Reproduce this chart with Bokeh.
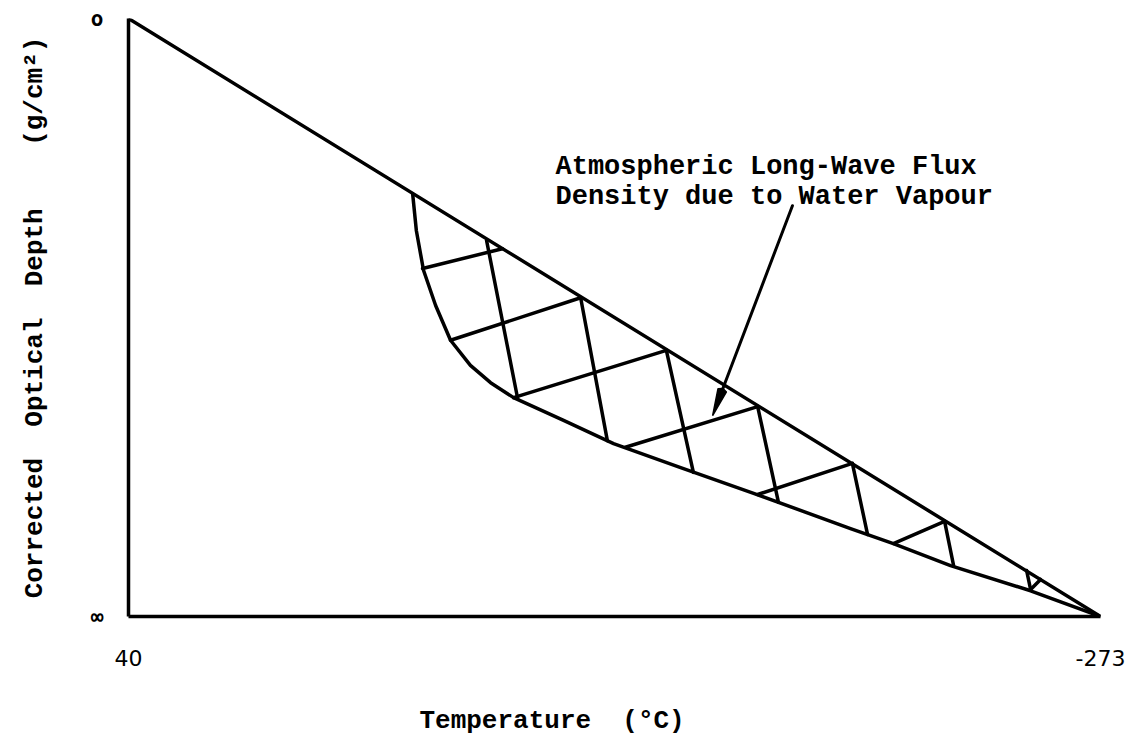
import math
from bokeh.plotting import figure
from bokeh.models import Range1d, FixedTicker
from bokeh.core.properties import value
from bokeh.embed import file_html
from bokeh.resources import INLINE

# ---------------- data ----------------
# x: temperature (deg C), reversed axis from 40 to -273
# y: corrected optical depth, expressed as % of the axis (0 at top, 100 = infinity)
temp_ticks = [40, -273]
temp_tick_labels = ["40", "-273"]
depth_ticks = [0, 100]
depth_tick_labels = ["o", "\u221e"]

upper_t = [40, -273]
upper_d = [0, 100]

lower_t = [-51.5, -52.7, -55.0, -58.9, -63.7, -70.1, -76.6, -84.0, -100.1,
           -116.2, -137.8, -161.3, -192.5, -206.3, -224.7, -250.5, -273]
lower_d = [29.3, 35.5, 42.1, 48.0, 53.8, 58.0, 60.9, 63.4, 67.2,
           71.1, 75.1, 79.4, 85.3, 87.8, 91.5, 95.7, 100]

# hatch strands running down from the upper line to the lower curve
down_t0 = [-75.3, -105.6, -133.2, -162.6, -193.1, -222.8, -249.2]
down_d0 = [37.1, 46.7, 55.5, 64.9, 74.4, 84.1, 92.3]
down_t1 = [-85.3, -114.2, -141.9, -169.3, -198.0, -225.7, -250.5]
down_d1 = [63.5, 70.6, 75.9, 80.9, 86.3, 91.5, 95.5]

# hatch strands rising from the lower curve to the upper line
up_t0 = [-54.7, -63.7, -84.0, -120.0, -162.6, -206.3, -250.5]
up_d0 = [41.8, 53.8, 63.4, 71.7, 79.6, 87.8, 95.5]
up_t1 = [-80.4, -105.6, -133.2, -162.6, -193.1, -222.8, -253.7]
up_d1 = [38.5, 46.7, 55.5, 64.9, 74.4, 84.1, 93.8]

note_lines = ["Atmospheric Long-Wave Flux", "Density due to Water Vapour"]
note_t = [-97.5, -97.5]
note_d = [24.9, 29.9]

arrow_tail = (-173.8, 31.3)
arrow_tip = (-148.1, 66.4)

NB = "\u00a0"
y_title = "Corrected " + NB + "Optical " + NB + "Depth " + NB * 3 + "(g/cm\u00b2)"
# trailing no-break spaces move the centred label to the left, as in the original
x_title = "Temperature " + NB + "(\u00b0C)" + NB * 8

# ---------------- layout ----------------
W, H = 1131, 740
BL, BR, BT, BB = 128, 31, 18, 124
FX0, FX1, FY0, FY1 = BL, W - BR, BT, H - BB

def to_px(t, d):
    return FX0 + (40 - t) / 313 * (FX1 - FX0), FY0 + d / 100 * (FY1 - FY0)

def to_data(x, y):
    return 40 - (x - FX0) / (FX1 - FX0) * 313, (y - FY0) / (FY1 - FY0) * 100

p = figure(width=W, height=H, x_range=Range1d(40, -273), y_range=Range1d(100, 0),
           output_backend="svg", toolbar_location=None,
           min_border_left=BL, min_border_right=BR, min_border_top=BT, min_border_bottom=BB)
p.grid.visible = False
p.outline_line_color = None
p.background_fill_color = "white"
p.border_fill_color = "white"

INK = "#000000"

xa = p.xaxis[0]
xa.ticker = FixedTicker(ticks=temp_ticks)
xa.major_label_overrides = {t: s for t, s in zip(temp_ticks, temp_tick_labels)}
xa.axis_line_width = 3.5
xa.axis_line_color = INK
xa.major_tick_line_color = None
xa.minor_tick_line_color = None
xa.major_tick_out = 0
xa.major_tick_in = 0
xa.major_label_standoff = 33
xa.major_label_text_font = "DejaVu Sans"
xa.major_label_text_font_size = "22px"
xa.major_label_text_color = INK
xa.axis_label = x_title
xa.axis_label_text_font = "Liberation Mono"
xa.axis_label_text_font_size = "26px"
xa.axis_label_text_font_style = "bold"
xa.axis_label_text_color = INK
xa.axis_label_standoff = 37

ya = p.yaxis[0]
ya.ticker = FixedTicker(ticks=depth_ticks)
ya.major_label_overrides = {t: s for t, s in zip(depth_ticks, depth_tick_labels)}
ya.axis_line_width = 3.5
ya.axis_line_color = INK
ya.major_tick_line_color = None
ya.minor_tick_line_color = None
ya.major_tick_out = 0
ya.major_tick_in = 0
ya.major_label_standoff = 25
ya.major_label_text_font = "DejaVu Sans Mono"
ya.major_label_text_font_size = "21px"
ya.major_label_text_font_style = "bold"
ya.major_label_text_color = INK
ya.axis_label = y_title
ya.axis_label_text_font = "Liberation Mono"
ya.axis_label_text_font_size = "26px"
ya.axis_label_text_font_style = "bold"
ya.axis_label_text_color = INK
ya.axis_label_standoff = 38

LW = 3.5
p.line(upper_t, upper_d, line_width=LW, line_color=INK, line_join="round", line_cap="round")
p.line(lower_t, lower_d, line_width=LW, line_color=INK, line_join="round", line_cap="round")
p.segment(down_t0, down_d0, down_t1, down_d1, line_width=LW, line_color=INK, line_cap="round")
p.segment(up_t0, up_d0, up_t1, up_d1, line_width=LW, line_color=INK, line_cap="round")

p.text(note_t, note_d, text=note_lines, text_font=value("Liberation Mono"),
       text_font_size="27px", text_font_style="bold", text_color=INK,
       text_align="left", text_baseline="alphabetic")

# arrow: shaft + slim filled head
tx, ty = to_px(*arrow_tip)
sx, sy = to_px(*arrow_tail)
L = math.hypot(sx - tx, sy - ty)
ux, uy = (sx - tx) / L, (sy - ty) / L
nx, ny = -uy, ux
head_len, head_half = 27, 4.5
bx, by = tx + head_len * ux, ty + head_len * uy
base_t, base_d = to_data(bx, by)
p.line([arrow_tail[0], base_t], [arrow_tail[1], base_d], line_width=3, line_color=INK, line_cap="round")
pts = [(tx, ty), (bx + head_half * nx, by + head_half * ny), (bx + 2 * ux, by + 2 * uy),
       (bx - head_half * nx, by - head_half * ny)]
hx, hy = zip(*[to_data(x, y) for x, y in pts])
p.patch(list(hx), list(hy), fill_color=INK, line_color=INK, line_width=1.5)

open("out.html", "w").write(file_html(p, INLINE))
